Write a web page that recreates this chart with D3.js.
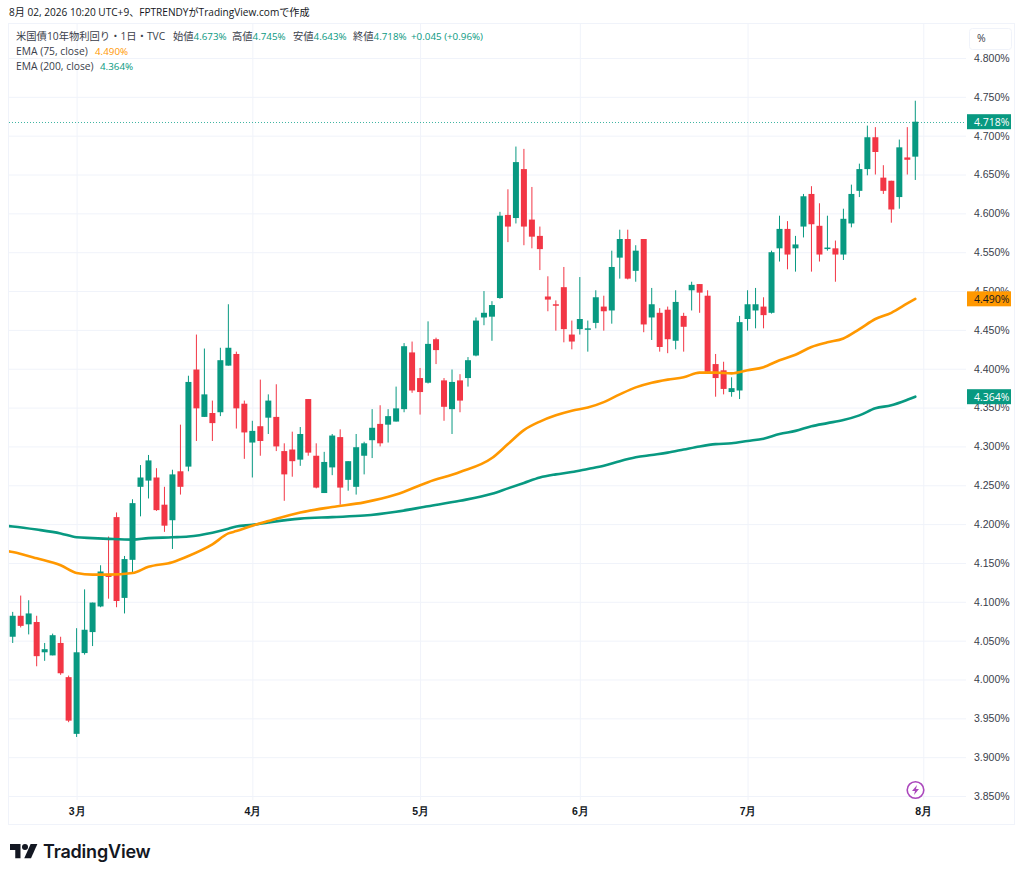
<!DOCTYPE html>
<html lang="ja"><head><meta charset="utf-8">
<script src="https://cdn.jsdelivr.net/npm/d3@7"></script>
<style>
html,body{margin:0;padding:0;background:#fff;}
svg{display:block;font-family:"Open Sans","Noto Sans CJK JP",sans-serif;}
</style></head><body><svg id="c" width="1024" height="878"></svg>
<script>
const opens=[4.055,4.082,4.071,4.074,4.035,4.031,4.047,4.003,3.930,4.034,4.061,4.094,4.136,4.209,4.105,4.154,4.248,4.256,4.260,4.225,4.205,4.268,4.274,4.399,4.338,4.343,4.344,4.404,4.419,4.355,4.305,4.326,4.337,4.338,4.294,4.296,4.283,4.361,4.288,4.240,4.273,4.312,4.257,4.248,4.288,4.308,4.329,4.328,4.332,4.348,4.421,4.388,4.382,4.438,4.385,4.348,4.385,4.388,4.417,4.466,4.467,4.491,4.598,4.594,4.657,4.592,4.571,4.493,4.483,4.505,4.444,4.451,4.451,4.459,4.480,4.475,4.543,4.567,4.526,4.567,4.466,4.472,4.476,4.436,4.468,4.501,4.509,4.494,4.406,4.398,4.370,4.372,4.464,4.475,4.480,4.472,4.555,4.580,4.555,4.583,4.625,4.584,4.555,4.555,4.547,4.587,4.629,4.657,4.698,4.646,4.642,4.621,4.672,4.673];
const highs=[4.087,4.108,4.102,4.082,4.047,4.059,4.055,4.005,4.066,4.116,4.099,4.147,4.184,4.215,4.159,4.232,4.276,4.289,4.272,4.248,4.270,4.328,4.391,4.444,4.426,4.359,4.427,4.483,4.422,4.359,4.333,4.386,4.367,4.380,4.304,4.319,4.325,4.361,4.304,4.293,4.316,4.322,4.281,4.316,4.306,4.348,4.353,4.348,4.377,4.433,4.435,4.401,4.461,4.440,4.388,4.399,4.393,4.415,4.466,4.500,4.487,4.602,4.631,4.686,4.683,4.634,4.583,4.519,4.488,4.531,4.462,4.518,4.462,4.501,4.494,4.552,4.579,4.579,4.559,4.567,4.504,4.478,4.480,4.501,4.472,4.512,4.509,4.501,4.419,4.409,4.389,4.468,4.501,4.504,4.492,4.552,4.597,4.590,4.571,4.625,4.635,4.613,4.597,4.565,4.606,4.637,4.664,4.713,4.711,4.662,4.642,4.695,4.711,4.745];
const lows=[4.047,4.067,4.058,4.017,4.024,4.031,4.006,3.945,3.926,4.032,4.043,4.093,4.104,4.093,4.085,4.137,4.210,4.233,4.217,4.190,4.168,4.238,4.268,4.307,4.338,4.307,4.339,4.404,4.323,4.284,4.260,4.288,4.316,4.294,4.230,4.261,4.275,4.288,4.246,4.240,4.263,4.225,4.243,4.238,4.264,4.285,4.300,4.305,4.332,4.344,4.369,4.341,4.381,4.406,4.333,4.316,4.344,4.377,4.416,4.456,4.436,4.490,4.563,4.587,4.559,4.555,4.527,4.474,4.449,4.434,4.425,4.444,4.422,4.452,4.449,4.458,4.516,4.515,4.512,4.447,4.437,4.422,4.420,4.425,4.422,4.475,4.472,4.395,4.364,4.367,4.364,4.361,4.449,4.452,4.452,4.471,4.538,4.528,4.525,4.569,4.525,4.538,4.552,4.512,4.540,4.582,4.621,4.649,4.650,4.625,4.588,4.606,4.650,4.643];
const closes=[4.082,4.069,4.085,4.030,4.039,4.057,4.008,3.947,4.035,4.064,4.099,4.139,4.132,4.101,4.155,4.227,4.260,4.282,4.218,4.198,4.264,4.248,4.383,4.349,4.367,4.330,4.411,4.427,4.349,4.318,4.320,4.307,4.359,4.300,4.264,4.281,4.316,4.292,4.247,4.280,4.314,4.247,4.281,4.299,4.304,4.324,4.304,4.339,4.349,4.429,4.372,4.370,4.432,4.424,4.351,4.383,4.359,4.411,4.462,4.472,4.482,4.597,4.583,4.666,4.583,4.570,4.554,4.489,4.482,4.451,4.435,4.464,4.452,4.492,4.474,4.531,4.567,4.516,4.552,4.457,4.483,4.428,4.438,4.486,4.454,4.508,4.498,4.396,4.388,4.374,4.375,4.460,4.483,4.483,4.469,4.550,4.580,4.547,4.560,4.622,4.586,4.547,4.556,4.547,4.593,4.625,4.657,4.698,4.679,4.629,4.605,4.685,4.669,4.718];

const emaDays=[-1,0,3,6,8,10,12,15,17,20,22,25,27,28,30,32,36,40,44,48,52,56,60,62,64,66,68,70,72,74,76,78,80,82,84,86,88,90,92,94,96,98,100,102,104,106,108,110,112,113];
const ema75=[4.166,4.164,4.156,4.147,4.137,4.135,4.135,4.137,4.145,4.151,4.159,4.174,4.188,4.191,4.198,4.204,4.215,4.222,4.228,4.238,4.254,4.267,4.285,4.303,4.321,4.332,4.340,4.346,4.350,4.357,4.367,4.376,4.382,4.386,4.389,4.395,4.395,4.394,4.398,4.402,4.411,4.418,4.428,4.434,4.439,4.451,4.464,4.472,4.484,4.490];
const ema200=[4.198,4.197,4.193,4.188,4.183,4.182,4.181,4.180,4.182,4.183,4.184,4.189,4.194,4.197,4.199,4.202,4.207,4.209,4.211,4.216,4.223,4.230,4.239,4.246,4.253,4.260,4.264,4.267,4.271,4.275,4.281,4.286,4.289,4.292,4.296,4.300,4.303,4.304,4.307,4.310,4.316,4.320,4.326,4.330,4.334,4.340,4.349,4.353,4.360,4.364];

const priceTicks=[4.80,4.75,4.70,4.65,4.60,4.55,4.50,4.45,4.40,4.35,4.30,4.25,4.20,4.15,4.10,4.05,4.00,3.95,3.90,3.85];
const monthDays=[8,30,51,71,92,114];
const monthLabels=["3月","4月","5月","6月","7月","8月"];

const headerText="8月 02, 2026 10:20 UTC+9、FPTRENDYがTradingView.comで作成";
const symbolText="米国債10年物利回り・1日・TVC";
const ohlcNames=["始値","高値","安値","終値"];
const ohlcValues=["4.673%","4.745%","4.643%","4.718%"];
const changeText="+0.045 (+0.96%)";
const lastClose=4.718, lastEma75=4.490, lastEma200=4.364;

const green="#089981",red="#f23645",orange="#ff9800",grid="#f0f3fa",ink="#131722",textC="#3a3e4a";
const svg=d3.select("#c");
const x=d3.scaleLinear().domain([0,113]).range([12.7,915.3]);
const y=d3.scaleLinear().domain([3.85,4.80]).range([796,58]);
const F=(v)=>v.toFixed(3)+"%";

svg.append("rect").attr("x",8.5).attr("y",23.5).attr("width",1006).attr("height",801).attr("fill","#fff").attr("stroke",grid);

const ya=svg.append("g").attr("transform","translate(966,0)")
 .call(d3.axisRight(y).tickValues(priceTicks).tickFormat(F).tickSize(-957).tickPadding(8));
ya.select(".domain").remove();
ya.selectAll("line").attr("x2",-957).attr("stroke",grid);
ya.selectAll("text").attr("x",8).attr("fill",textC).attr("font-size",10.5).attr("font-weight",500);

const xa=svg.append("g").attr("transform","translate(0,800)")
 .call(d3.axisBottom(x).tickValues(monthDays).tickFormat((d,i)=>monthLabels[i]).tickSize(-777).tickPadding(7));
xa.select(".domain").remove();
xa.selectAll("line").attr("y2",-777).attr("stroke",grid);
xa.selectAll("text").attr("y",8).attr("fill",ink).attr("font-size",10.5).attr("font-weight",600);

svg.append("defs").append("clipPath").attr("id","pane").append("rect").attr("x",9).attr("y",24).attr("width",957).attr("height",776);
const pane=svg.append("g").attr("clip-path","url(#pane)");

const lastY=Math.round(y(lastClose))+0.5;
pane.append("line").attr("x1",9).attr("x2",966).attr("y1",lastY).attr("y2",lastY)
 .attr("stroke","#3fb5a2").attr("stroke-dasharray","1 2");

const idx=d3.range(opens.length);
const col=i=>closes[i]>=opens[i]?green:red;
const cg=pane.append("g");
cg.selectAll("line").data(idx).join("line")
 .attr("x1",x).attr("x2",x).attr("y1",i=>y(highs[i])).attr("y2",i=>y(lows[i]))
 .attr("stroke",col).attr("stroke-width",1);
cg.selectAll("rect").data(idx).join("rect")
 .attr("x",i=>x(i)-3).attr("width",6)
 .attr("y",i=>Math.min(y(opens[i]),y(closes[i])))
 .attr("height",i=>Math.max(1.5,Math.abs(y(opens[i])-y(closes[i]))))
 .attr("fill",col);

const lineOf=(vals)=>d3.line().x((d,i)=>x(emaDays[i])).y(d=>y(d)).curve(d3.curveMonotoneX)(vals);
pane.append("path").attr("d",lineOf(ema200)).attr("fill","none").attr("stroke",green).attr("stroke-width",2.6).attr("stroke-linecap","round");
pane.append("path").attr("d",lineOf(ema75)).attr("fill","none").attr("stroke",orange).attr("stroke-width",2.6).attr("stroke-linecap","round");

// price tags
[[lastClose,green],[lastEma75,orange],[lastEma200,green]].forEach(([v,c])=>{
 const g=svg.append("g").attr("transform",`translate(967,${y(v)})`);
 g.append("rect").attr("x",0).attr("y",-7.5).attr("width",44).attr("height",15).attr("fill",c);
 g.append("text").attr("x",7).attr("y",4).attr("font-size",10.5).attr("font-weight",500).attr("fill",c===orange?ink:"#fff").text(F(v));
});

// unit button
svg.append("rect").attr("x",969.5).attr("y",28.5).attr("width",42).attr("height",21).attr("rx",3).attr("fill","#fff").attr("stroke",grid);
svg.append("text").attr("x",977).attr("y",42).attr("font-size",10.5).attr("fill",textC).text("%");

// header + legend
svg.append("text").attr("x",9).attr("y",16).attr("font-size",10.1).attr("fill",ink).text(headerText);
const leg=svg.append("g").attr("font-size",10.3);
leg.append("text").attr("x",16).attr("y",40).attr("fill",textC).text(symbolText);
const nameX=[173,232,293,353];
ohlcNames.forEach((n,i)=>{
 const t=leg.append("text").attr("x",nameX[i]).attr("y",40).attr("fill",textC).text(n);
 t.append("tspan").attr("fill",green).attr("font-size",9.8).text(ohlcValues[i]);
});
leg.append("text").attr("x",411).attr("y",40).attr("font-size",9.8).attr("fill",green).text(changeText);
leg.append("text").attr("x",16).attr("y",55).attr("fill",textC).text("EMA (75, close)");
leg.append("text").attr("x",95).attr("y",55).attr("font-size",9.8).attr("fill",orange).text(F(lastEma75));
leg.append("text").attr("x",16).attr("y",70).attr("fill",textC).text("EMA (200, close)");
leg.append("text").attr("x",100).attr("y",70).attr("font-size",9.8).attr("fill",green).text(F(lastEma200));

// lightning badge
const b=svg.append("g").attr("transform","translate(915.5,790)");
b.append("circle").attr("r",8.3).attr("fill","#fff").attr("stroke","#ab47bc").attr("stroke-width",1.6);
b.append("path").attr("d","M1.5,-5 L-3.5,1 L-0.5,1 L-1.5,5 L3.5,-1 L0.5,-1 Z").attr("fill","#ab47bc");

// logo
const l=svg.append("g").attr("transform","translate(10,842.6) scale(0.75)").attr("fill",ink);
l.append("path").attr("d","M14 2H0v8h7v11h7V2z");
l.append("path").attr("d","M28 21h-9L27.5 2h9L28 21z");
l.append("circle").attr("cx",20).attr("cy",6).attr("r",4);
svg.append("text").attr("x",43).attr("y",858).attr("font-family","Inter,sans-serif").attr("font-size",18).attr("font-weight",600).attr("fill",ink).attr("letter-spacing","-0.2").text("TradingView");
</script></body></html>
